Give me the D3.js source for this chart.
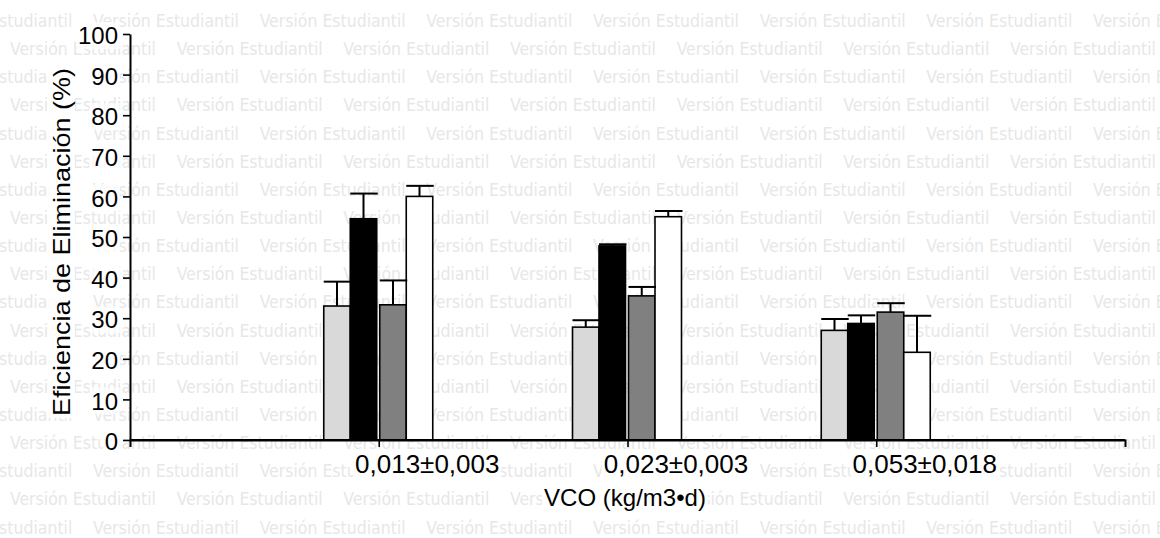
<!DOCTYPE html>
<html>
<head>
<meta charset="utf-8">
<script src="https://cdn.jsdelivr.net/npm/d3@7"></script>
<style>
  body { margin: 0; background: #fff; }
  svg { display: block; }
</style>
</head>
<body>
<div id="chart"></div>
<script>
const width = 1160
const height = 538

// DATA
const categories = ["0,013±0,003", "0,023±0,003", "0,053±0,018"]
const series = ["s1", "s2", "s3", "s4"]
const seriesColors = ["#d9d9d9", "#000000", "#808080", "#ffffff"]

const meanS1 = [33, 27.8, 27]
const meanS2 = [54.5, 47.8, 28.7]
const meanS3 = [33.3, 35.5, 31.5]
const meanS4 = [60, 55, 21.6]

const errS1 = [6, 1.7, 2.8]
const errS2 = [6.2, 0.4, 2]
const errS3 = [6, 2.2, 2.2]
const errS4 = [2.6, 1.4, 9]

const yTicks = [0, 10, 20, 30, 40, 50, 60, 70, 80, 90, 100]

const means = [meanS1, meanS2, meanS3, meanS4]
const errs = [errS1, errS2, errS3, errS4]

// flat table for the bars
const rows = []
series.forEach((s, i) => {
  categories.forEach((c, j) => {
    rows.push({ serie: s, si: i, cat: c, ci: j, mean: means[i][j], err: errs[i][j] })
  })
})

const font = "'Liberation Sans', Arial, sans-serif"

const svg = d3.select("#chart")
  .append("svg")
  .attr("width", width)
  .attr("height", height)

// WATERMARK (background decoration)
const wm = svg.append("g")
  .attr("fill", "#e7e7e7")
  .attr("font-family", "'DejaVu Sans Condensed', 'DejaVu Sans', sans-serif")
  .attr("font-size", 17.5)
for (let r = 0; r < 19; r++) {
  const start = r % 2 == 0 ? 93 : 10
  for (let k = -1; k < 8; k++) {
    wm.append("text")
      .attr("x", start + k * 166.67)
      .attr("y", 27 + r * 28.14)
      .text("Versión Estudiantil")
  }
}

// SCALES
const xScale = d3.scaleLinear()
  .domain([0, categories.length + 1])
  .range([130, 1125])

const yScale = d3.scaleLinear()
  .domain([0, 100])
  .range([440, 34])

const inner = d3.scaleBand()
  .domain(series)
  .range([-55, 51])
  .padding(0)

// small gap between the two halves of each group
const barX = d => xScale(d.ci + 1) + inner(d.serie) + (d.si >= 2 ? 3 : 0)

// put a soft white box behind label texts
function backdrop(sel, op) {
  sel.each(function () {
    const b = this.getBBox()
    d3.select(this.parentNode).insert("rect", () => this)
      .attr("x", b.x - 2)
      .attr("y", b.y)
      .attr("width", b.width + 4)
      .attr("height", b.height)
      .attr("transform", this.getAttribute("transform"))
      .attr("fill", "#fff")
      .attr("opacity", op)
  })
}

// AXES
const yAxis = d3.axisLeft(yScale)
  .tickValues(yTicks)
  .tickSize(7)
  .tickSizeOuter(0)
  .tickPadding(5)

const xAxis = d3.axisBottom(xScale)
  .tickValues(d3.range(1, categories.length + 1))
  .tickFormat(d => categories[d - 1])
  .tickSize(7)
  .tickSizeOuter(7)

const gy = svg.append("g")
  .attr("transform", "translate(130,0)")
  .call(yAxis)
gy.select(".domain").attr("stroke-width", 2)
gy.selectAll(".tick line").attr("stroke-width", 1.6)
gy.selectAll(".tick text")
  .attr("font-family", font)
  .attr("font-size", 24)
  .attr("fill", "#000")
  .attr("dy", "0.4em")
backdrop(gy.selectAll(".tick text"), 0.7)

const gx = svg.append("g")
  .attr("transform", "translate(0,440)")
  .call(xAxis)
gx.select(".domain").attr("stroke-width", 2)
gx.selectAll(".tick line").attr("stroke-width", 1.6)
gx.selectAll(".tick text")
  .attr("font-family", font)
  .attr("font-size", 26)
  .attr("fill", "#000")
  .attr("x", 48)
  .attr("y", 33)
  .attr("dy", 0)
backdrop(gx.selectAll(".tick text"), 0.8)

// AXIS TITLES
const titles = svg.append("g")
  .attr("font-family", font)
  .attr("fill", "#000")

titles.append("text")
  .attr("transform", "translate(70,242) rotate(-90)")
  .attr("text-anchor", "middle")
  .attr("font-size", 24)
  .attr("textLength", 348)
  .attr("lengthAdjust", "spacingAndGlyphs")
  .text("Eficiencia de Eliminación (%)")

titles.append("text")
  .attr("x", 625)
  .attr("y", 506)
  .attr("text-anchor", "middle")
  .attr("font-size", 24)
  .text("VCO (kg/m3•d)")

backdrop(titles.selectAll("text"), 0.85)

// BARS
svg.append("g")
  .selectAll("rect")
  .data(rows)
  .join("rect")
    .attr("x", d => barX(d))
    .attr("y", d => yScale(d.mean))
    .attr("width", inner.bandwidth())
    .attr("height", d => yScale(0) - yScale(d.mean))
    .attr("fill", d => seriesColors[d.si])
    .attr("stroke", "#000")
    .attr("stroke-width", 1.6)

// ERROR BARS (upper only)
const eb = svg.append("g")
  .attr("stroke", "#000")
  .attr("stroke-width", 2)

eb.selectAll(".stem")
  .data(rows)
  .join("line")
    .attr("class", "stem")
    .attr("x1", d => barX(d) + inner.bandwidth() / 2)
    .attr("x2", d => barX(d) + inner.bandwidth() / 2)
    .attr("y1", d => yScale(d.mean))
    .attr("y2", d => yScale(d.mean + d.err))

eb.selectAll(".cap")
  .data(rows)
  .join("line")
    .attr("class", "cap")
    .attr("x1", d => barX(d))
    .attr("x2", d => barX(d) + inner.bandwidth() + 1)
    .attr("y1", d => yScale(d.mean + d.err))
    .attr("y2", d => yScale(d.mean + d.err))

// redraw the axis line over the bar bottoms
svg.append("line")
  .attr("x1", 130).attr("x2", 1125)
  .attr("y1", 440).attr("y2", 440)
  .attr("stroke", "#000")
  .attr("stroke-width", 2)
</script>
</body>
</html>
